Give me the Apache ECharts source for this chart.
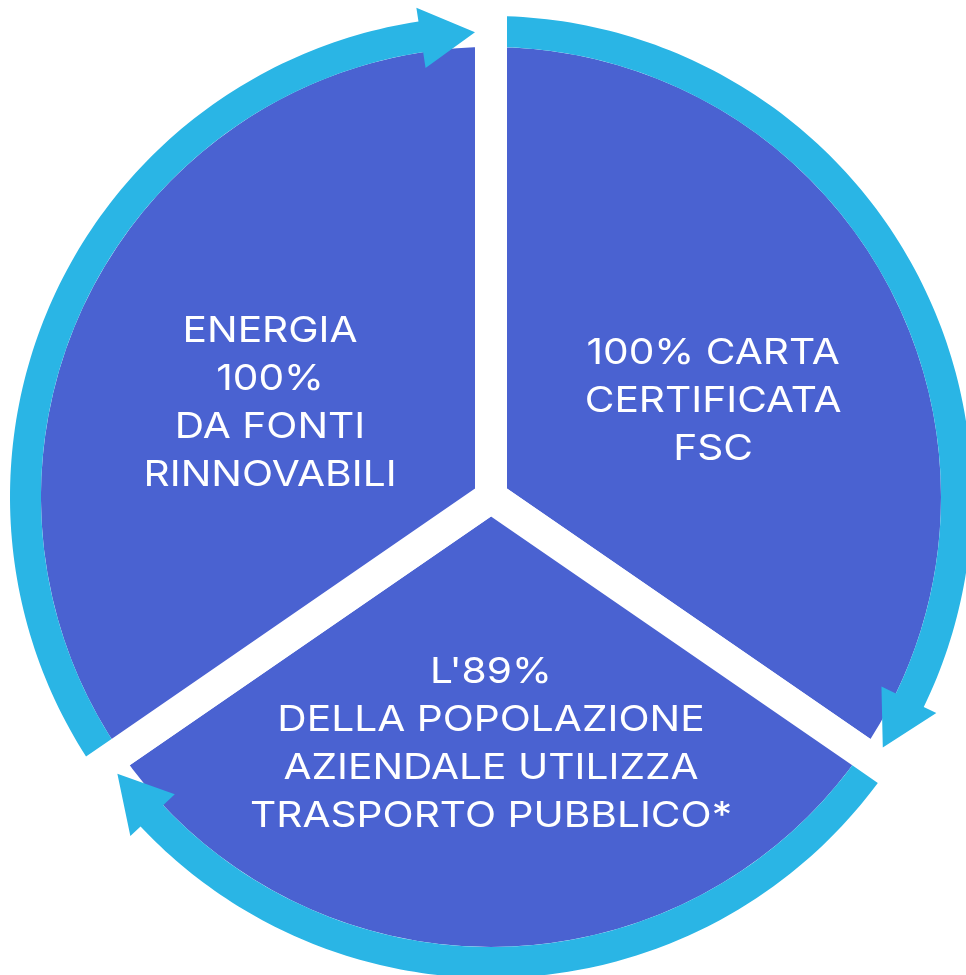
<!DOCTYPE html>
<html>
<head>
<meta charset="utf-8">
<script src="https://cdn.jsdelivr.net/npm/echarts@6/dist/echarts.min.js"></script>
<style>
  html, body { margin: 0; padding: 0; background: #ffffff; }
  #chart { width: 966px; height: 975px; }
</style>
</head>
<body>
<div id="chart"></div>
<script>
// ---- data ----
const SLICE_LABELS = [
  '100% CARTA\nCERTIFICATA\nFSC',
  "L'89%\nDELLA POPOLAZIONE\nAZIENDALE UTILIZZA\nTRASPORTO PUBBLICO*",
  'ENERGIA\n100%\nDA FONTI\nRINNOVABILI'
];
const SLICE_VALUES = [34.6, 30.8, 34.6];   // share of the circle (%)

// ---- layout / style ----
const CX = 491, CY = 497;
const HALF_GAP = 16;
const PIE_R = 450;            // visible blue radius
const RING_IN = 450, RING_OUT = 481;
const HEAD_IN = 434, HEAD_OUT = 495, TIP_R = 465, HEAD_LEN = 6.7;
const BLUE = '#4a62d1', CYAN = '#2ab5e5';
const LABEL_POS = [ {r: 242, a: 23.4}, {r: 247, a: -90}, {r: 240, a: 157} ];
const FONT = 'Inter, "Noto Sans", sans-serif';
const TEXT_STRETCH = 1.13;

// slice boundaries (math degrees, going clockwise from the top)
const total = SLICE_VALUES.reduce((s, v) => s + v, 0);
const bounds = [90];
SLICE_VALUES.forEach((v, i) => bounds.push(bounds[i] - 360 * v / total));

const deg = r => Math.asin(HALF_GAP / r) * 180 / Math.PI;

const chart = echarts.init(document.getElementById('chart'), null, {renderer: 'canvas'});
chart.setOption({
  animation: false,
  backgroundColor: '#ffffff',
  polar: { center: [CX, CY], radius: 500 },
  radiusAxis: { type: 'value', min: 0, max: 500, show: false },
  angleAxis: { type: 'value', min: 0, max: 360, startAngle: 0, clockwise: false, show: false },
  series: [
    {
      type: 'pie',
      z: 2,
      silent: true,
      center: [CX, CY],
      radius: [0, PIE_R + HALF_GAP],
      startAngle: 90,
      clockwise: true,
      label: { show: false },
      labelLine: { show: false },
      emphasis: { disabled: true },
      itemStyle: { color: BLUE, borderColor: '#ffffff', borderWidth: HALF_GAP * 2, borderJoin: 'miter' },
      data: SLICE_VALUES.map((v, i) => ({ value: v, name: SLICE_LABELS[i] }))
    },
    {
      type: 'custom',
      z: 5,
      silent: true,
      coordinateSystem: 'polar',
      data: SLICE_VALUES.map((v, i) => [i]),
      renderItem: function (params, api) {
        const i = params.dataIndex;
        const a0 = bounds[i], a1 = bounds[i + 1];
        const tailOut = a0 - deg(RING_OUT), tailIn = a0 - deg(RING_IN);
        const tip = a1 + deg(TIP_R);
        const back = tip + HEAD_LEN;
        const pts = [];
        const steps = 120;
        for (let k = 0; k <= steps; k++) {
          const a = tailOut + (back - tailOut) * k / steps;
          pts.push(api.coord([RING_OUT, a]));
        }
        pts.push(api.coord([HEAD_OUT, back]));
        pts.push(api.coord([TIP_R, tip]));
        pts.push(api.coord([HEAD_IN, back]));
        for (let k = 0; k <= steps; k++) {
          const a = back + (tailIn - back) * k / steps;
          pts.push(api.coord([RING_IN, a]));
        }
        const lp = api.coord([LABEL_POS[i].r, LABEL_POS[i].a]);
        return {
          type: 'group',
          children: [
            { type: 'polygon', shape: { points: pts }, style: { fill: CYAN } },
            {
              type: 'text',
              x: lp[0], y: lp[1],
              scaleX: TEXT_STRETCH, scaleY: 1,
              style: {
                text: SLICE_LABELS[i],
                fill: '#ffffff',
                fontSize: 36,
                fontFamily: FONT,
                fontWeight: 400,
                lineHeight: 48,
                align: 'center', verticalAlign: 'middle',
                textAlign: 'center', textVerticalAlign: 'middle'
              }
            }
          ]
        };
      }
    }
  ]
});
</script>
</body>
</html>
